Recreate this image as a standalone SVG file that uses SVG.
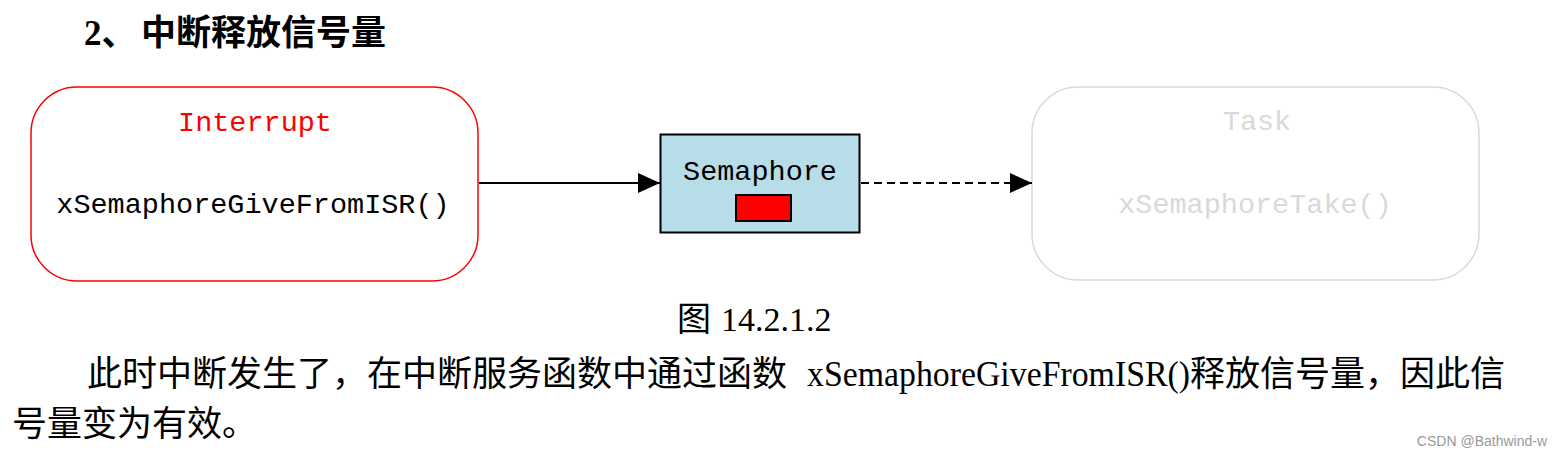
<svg xmlns="http://www.w3.org/2000/svg" width="1563" height="455" viewBox="0 0 1563 455">
<defs>
<style>
.mono{font-family:"Liberation Mono","DejaVu Sans Mono",monospace;font-size:28.5px;text-anchor:middle}
.cjk{font-family:"Liberation Serif","Noto Sans CJK SC",serif}
.conn{stroke:#000;stroke-width:2;fill:none}
</style>
<marker id="ah" viewBox="0 0 22 20" refX="22" refY="10" markerWidth="22" markerHeight="20" markerUnits="userSpaceOnUse" orient="auto">
<path d="M0,0 L22,10 L0,20 Z" fill="#000"/>
</marker>
</defs>
<rect width="1563" height="455" fill="#fff"/>
<text class="cjk" x="84" y="45" font-size="35" font-weight="bold" fill="#000">2、<tspan x="141">中断释放信号量</tspan></text>
<g id="interrupt">
<rect x="31" y="87" width="447" height="194" rx="46" ry="46" fill="#fff" stroke="#ff0000" stroke-width="1.5"/>
<text class="mono" x="255" y="131" fill="#ff0000">Interrupt</text>
<text class="mono" x="253" y="213" fill="#000">xSemaphoreGiveFromISR()</text>
</g>
<g id="semaphore">
<rect x="660.5" y="134.5" width="199" height="98" fill="#b7dde8" stroke="#000" stroke-width="2"/>
<text class="mono" x="760" y="180" fill="#000">Semaphore</text>
<rect x="736" y="195" width="55" height="26" fill="#ff0000" stroke="#000" stroke-width="2"/>
</g>
<g id="task">
<rect x="1032" y="87" width="447" height="193" rx="46" ry="46" fill="#fff" stroke="#d9d9d9" stroke-width="1.5"/>
<text class="mono" x="1257" y="130" fill="#d9d9d9">Task</text>
<text class="mono" x="1255" y="213" fill="#d9d9d9">xSemaphoreTake()</text>
</g>
<g id="connectors">
<line class="conn" x1="479" y1="183" x2="660" y2="183" marker-end="url(#ah)"/>
<line class="conn" x1="861" y1="183" x2="1032" y2="183" stroke-dasharray="8,5" marker-end="url(#ah)"/>
</g>
<text class="cjk" x="677" y="331" font-size="34" fill="#000">图 <tspan x="721">14.2.1.2</tspan></text>
<text class="cjk" x="87" y="386" font-size="35" fill="#000">此时中断发生了，在中断服务函数中通过函数 <tspan x="807" textLength="383" lengthAdjust="spacingAndGlyphs">xSemaphoreGiveFromISR()</tspan><tspan x="1190">释放信号量，因此信</tspan></text>
<text class="cjk" x="12" y="436" font-size="35" fill="#000">号量变为有效。</text>
<text x="1547" y="446" font-family="Liberation Sans,Arial,sans-serif" font-size="14" fill="#999" text-anchor="end">CSDN @Bathwind-w</text>
</svg>
